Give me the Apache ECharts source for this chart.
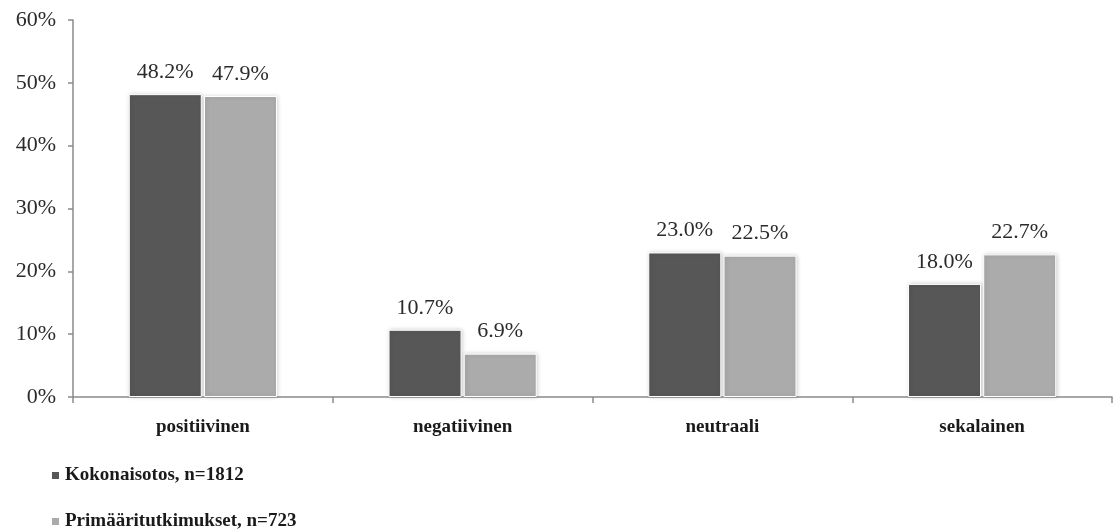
<!DOCTYPE html>
<html>
<head>
<meta charset="utf-8">
<script src="https://cdn.jsdelivr.net/npm/echarts@6/dist/echarts.min.js"></script>
<style>
  html, body { margin: 0; padding: 0; background: #ffffff; }
  #chart { width: 1115px; height: 532px; }
</style>
</head>
<body>
<div id="chart"></div>
<script>
// Categories and values (percent)
const categories = ['positiivinen', 'negatiivinen', 'neutraali', 'sekalainen'];
const kokonaisotos = [48.2, 10.7, 23.0, 18.0];
const primaaritutkimukset = [47.9, 6.9, 22.5, 22.7];
const seriesNames = ['Kokonaisotos, n=1812', 'Primääritutkimukset, n=723'];

const serif = '"Liberation Serif", "DejaVu Serif", serif';

const chart = echarts.init(document.getElementById('chart'), null, { renderer: 'canvas' });

function barSeries(name, data, color) {
  return {
    name: name,
    type: 'bar',
    data: data,
    barWidth: 73,
    barGap: '3%',
    itemStyle: {
      color: color,
      borderColor: '#ffffff',
      borderWidth: 1,
      shadowColor: 'rgba(0,0,0,0.18)',
      shadowBlur: 4,
      shadowOffsetX: 1,
      shadowOffsetY: 0
    },
    label: {
      show: true,
      position: 'top',
      distance: 11,
      formatter: p => p.value.toFixed(1) + '%',
      fontFamily: serif,
      fontSize: 22,
      color: '#2b2b2b'
    }
  };
}

// One legend per series so each sits on its own row
function legendRow(name, top) {
  return {
    orient: 'horizontal',
    left: 50,
    top: top,
    padding: 0,
    itemWidth: 9,
    itemHeight: 9,
    icon: 'rect',
    textStyle: { fontFamily: serif, fontSize: 19, fontWeight: 'bold', color: '#1a1a1a' },
    data: [name]
  };
}

chart.setOption({
  animation: false,
  backgroundColor: '#ffffff',
  grid: { left: 73, right: 3, top: 20, bottom: 135, containLabel: false },
  legend: [legendRow(seriesNames[0], 466), legendRow(seriesNames[1], 512)],
  xAxis: {
    type: 'category',
    data: categories,
    axisLine: { show: true, lineStyle: { color: '#8a8a8a', width: 1.5 } },
    axisTick: { show: true, length: 6, alignWithLabel: false, lineStyle: { color: '#8a8a8a', width: 1.5 } },
    axisLabel: { fontFamily: serif, fontSize: 19, fontWeight: 'bold', color: '#1a1a1a', margin: 21 }
  },
  yAxis: {
    type: 'value',
    min: 0,
    max: 60,
    interval: 10,
    axisLine: { show: true, lineStyle: { color: '#8a8a8a', width: 1.5 } },
    axisTick: { show: true, length: 5, lineStyle: { color: '#8a8a8a', width: 1.5 } },
    splitLine: { show: false },
    axisLabel: { formatter: '{value}%', fontFamily: serif, fontSize: 22, color: '#2b2b2b', margin: 17 }
  },
  series: [
    barSeries(seriesNames[0], kokonaisotos, '#575757'),
    barSeries(seriesNames[1], primaaritutkimukset, '#ababab')
  ]
});
</script>
</body>
</html>
